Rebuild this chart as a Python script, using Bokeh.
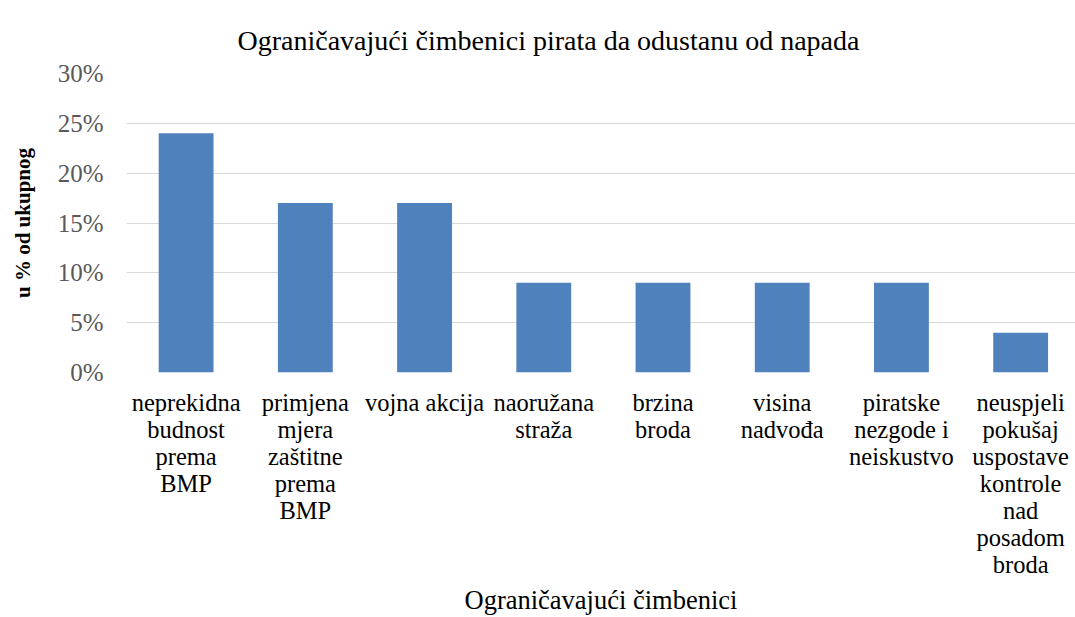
from bokeh.plotting import figure
from bokeh.models import Range1d, FixedTicker, NumeralTickFormatter, ColumnDataSource
from bokeh.embed import file_html
from bokeh.resources import INLINE

title_text = "Ograničavajući čimbenici pirata da odustanu od napada"
categories = [
    "neprekidna\nbudnost\nprema\nBMP",
    "primjena\nmjera\nzaštitne\nprema\nBMP",
    "vojna akcija",
    "naoružana\nstraža",
    "brzina\nbroda",
    "visina\nnadvođa",
    "piratske\nnezgode i\nneiskustvo",
    "neuspjeli\npokušaj\nuspostave\nkontrole\nnad\nposadom\nbroda",
]
values = [0.24, 0.17, 0.17, 0.09, 0.09, 0.09, 0.09, 0.04]
y_ticks = [0, 0.05, 0.10, 0.15, 0.20, 0.25, 0.30]

idx = list(range(len(categories)))
src = ColumnDataSource(dict(x=idx, top=values))

FONT = "Liberation Serif"
W, H = 1075, 617

p = figure(width=W, height=H, output_backend="svg", toolbar_location=None,
           x_range=Range1d(-0.5, 7.46), y_range=Range1d(0, 0.30),
           min_border_left=126, min_border_right=0, min_border_top=73,
           min_border_bottom=245)

p.vbar(x="x", top="top", width=0.46, source=src, color="#4F81BD", line_color=None)

p.title.text = title_text
p.title.text_font = FONT
p.title.text_font_size = "28px"
p.title.text_font_style = "normal"
p.title.text_color = "#000000"
p.title.align = "left"
p.title.offset = 111
p.title.vertical_align = "top"
p.title.standoff = 31

p.outline_line_color = None
p.background_fill_color = "white"
p.border_fill_color = "white"

p.xgrid.grid_line_color = None
p.ygrid.grid_line_color = "#d9d9d9"
p.ygrid.grid_line_width = 1
p.ygrid.ticker = FixedTicker(ticks=y_ticks)

p.yaxis.ticker = FixedTicker(ticks=y_ticks)
p.yaxis.formatter = NumeralTickFormatter(format="0%")
p.yaxis.axis_line_color = None
p.yaxis.major_tick_line_color = None
p.yaxis.minor_tick_line_color = None
p.yaxis.major_label_text_font = FONT
p.yaxis.major_label_text_font_size = "25px"
p.yaxis.major_label_text_color = "#595959"
p.yaxis.major_label_standoff = 17
p.yaxis.axis_label = "u % od ukupnog"
p.yaxis.axis_label_text_font = FONT
p.yaxis.axis_label_text_font_size = "21px"
p.yaxis.axis_label_text_font_style = "bold"
p.yaxis.axis_label_text_color = "#000000"
p.yaxis.axis_label_standoff = 20

p.xaxis.ticker = FixedTicker(ticks=idx)
p.xaxis.major_label_overrides = {i: c for i, c in zip(idx, categories)}
p.xaxis.axis_line_color = None
p.xaxis.major_tick_line_color = None
p.xaxis.minor_tick_line_color = None
p.xaxis.major_label_text_font = FONT
p.xaxis.major_label_text_font_size = "24.5px"
p.xaxis.major_label_text_color = "#000000"
p.xaxis.major_label_text_line_height = 1.0
p.xaxis.major_label_standoff = 10
p.xaxis.axis_label = "Ograničavajući čimbenici"
p.xaxis.axis_label_text_font = FONT
p.xaxis.axis_label_text_font_size = "26.5px"
p.xaxis.axis_label_text_font_style = "normal"
p.xaxis.axis_label_text_color = "#000000"
p.xaxis.axis_label_standoff = 4

open("out.html", "w").write(file_html(p, INLINE))
